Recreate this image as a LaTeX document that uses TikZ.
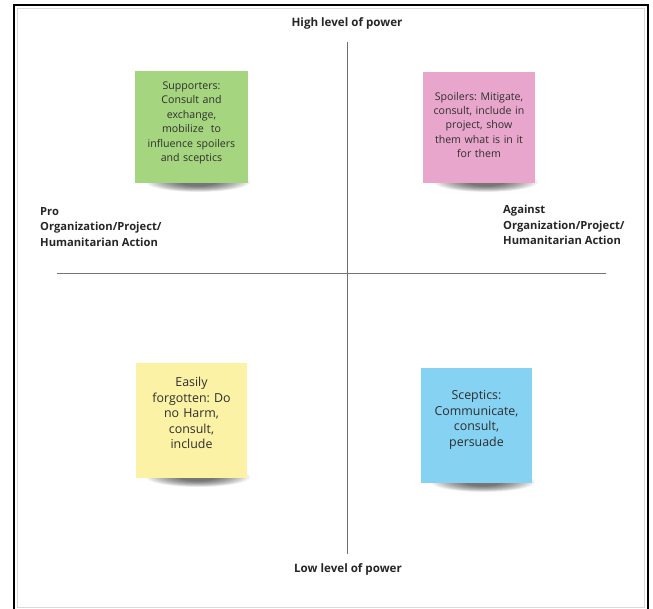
\documentclass[tikz,border=0pt]{standalone}
\usepackage{fontspec}
\setmainfont{Open Sans}
\frenchspacing
\definecolor{notegreen}{HTML}{A6D57F}
\definecolor{notepink}{HTML}{E9A6CC}
\definecolor{noteyellow}{HTML}{FBF2A6}
\definecolor{noteblue}{HTML}{86D2F2}
\definecolor{notetext}{HTML}{2E2E2E}
\definecolor{axisgray}{HTML}{6E6E6E}
\tikzset{
  axislabel/.style={font=\bfseries\fontsize{11.6}{14}\selectfont, text=black!85, inner sep=0pt},
  sidelabel/.style={axislabel, align=left, anchor=north west, font=\bfseries\fontsize{11.2}{15.6}\selectfont},
  sticky/.style={minimum width=112pt, minimum height=113pt, inner sep=3pt, align=center,
    text=notetext, anchor=center},
  smalltext/.style={font=\fontsize{10.6}{14.4}\selectfont, text width=108pt},
  bigtext/.style={font=\fontsize{12.4}{15.4}\selectfont, text width=104pt},
  axis/.style={draw=axisgray, line width=0.9pt},
}
% soft curl shadow under the lower edge of a note: centre x, bottom y
\newcommand{\curlshadow}[2]{%
  \foreach \k in {0,...,13}{%
    \fill[black, opacity=0.05] (#1,#2) ellipse [x radius={52-2.6*\k}, y radius={10-0.45*\k}];
  }%
}
\begin{document}
\begin{tikzpicture}[x=1pt, y=-1pt]
  \useasboundingbox (0,0) rectangle (653,609);
  \begin{scope}
    \clip (0,0) rectangle (653,609);
    \fill[white] (0,0) rectangle (653,609);
    % frame
    \draw[black, line width=2.6pt] (14,5) rectangle (648,620);
    \draw[black!15, line width=0.8pt] (17.5,8) rectangle (644.5,607.5);
  \end{scope}

  % axes
  \coordinate (vtop) at (347,42);
  \coordinate (vbot) at (347,554);
  \coordinate (hleft) at (57,273);
  \coordinate (hright) at (606,273);
  \draw[axis, draw=black!55] (hleft) -- (hright);
  \draw[axis] (vtop) -- (vbot);

  % axis labels
  \node[axislabel] (high) at (347,23) {High level of power};
  \node[axislabel] (low) at (348,569) {Low level of power};
  \node[sidelabel] (pro) at (40,207) {Pro\\Organization/Project/\\Humanitarian Action};
  \node[sidelabel] (against) at (503,205) {Against\\Organization/Project/\\Humanitarian Action};

  % shadows under the notes
  \curlshadow{198}{182}
  \curlshadow{486}{182}
  \curlshadow{198}{477}
  \curlshadow{483}{482}

  % sticky notes
  \fill[notegreen] (135,71) rectangle (248,183);
  \fill[notepink] (423,72) rectangle (535,183);
  \fill[noteyellow] (136,363) rectangle (247,478);
  \fill[noteblue] (421,368) rectangle (532,483);

  \node[sticky, smalltext] (supporters) at (191.5,123)
    {Supporters:\\Consult and\\exchange,\\mobilize~ to\\influence spoilers\\and sceptics};
  \node[sticky, smalltext] (spoilers) at (479,125)
    {Spoilers: Mitigate,\\consult, include in\\project, show\\them what is in it\\for them};
  \node[sticky, bigtext] (forgotten) at (191.5,413)
    {Easily\\forgotten: Do\\no Harm,\\consult,\\include};
  \node[sticky, bigtext] (sceptics) at (476.5,420)
    {Sceptics:\\Communicate,\\consult,\\persuade};
\end{tikzpicture}
\end{document}
